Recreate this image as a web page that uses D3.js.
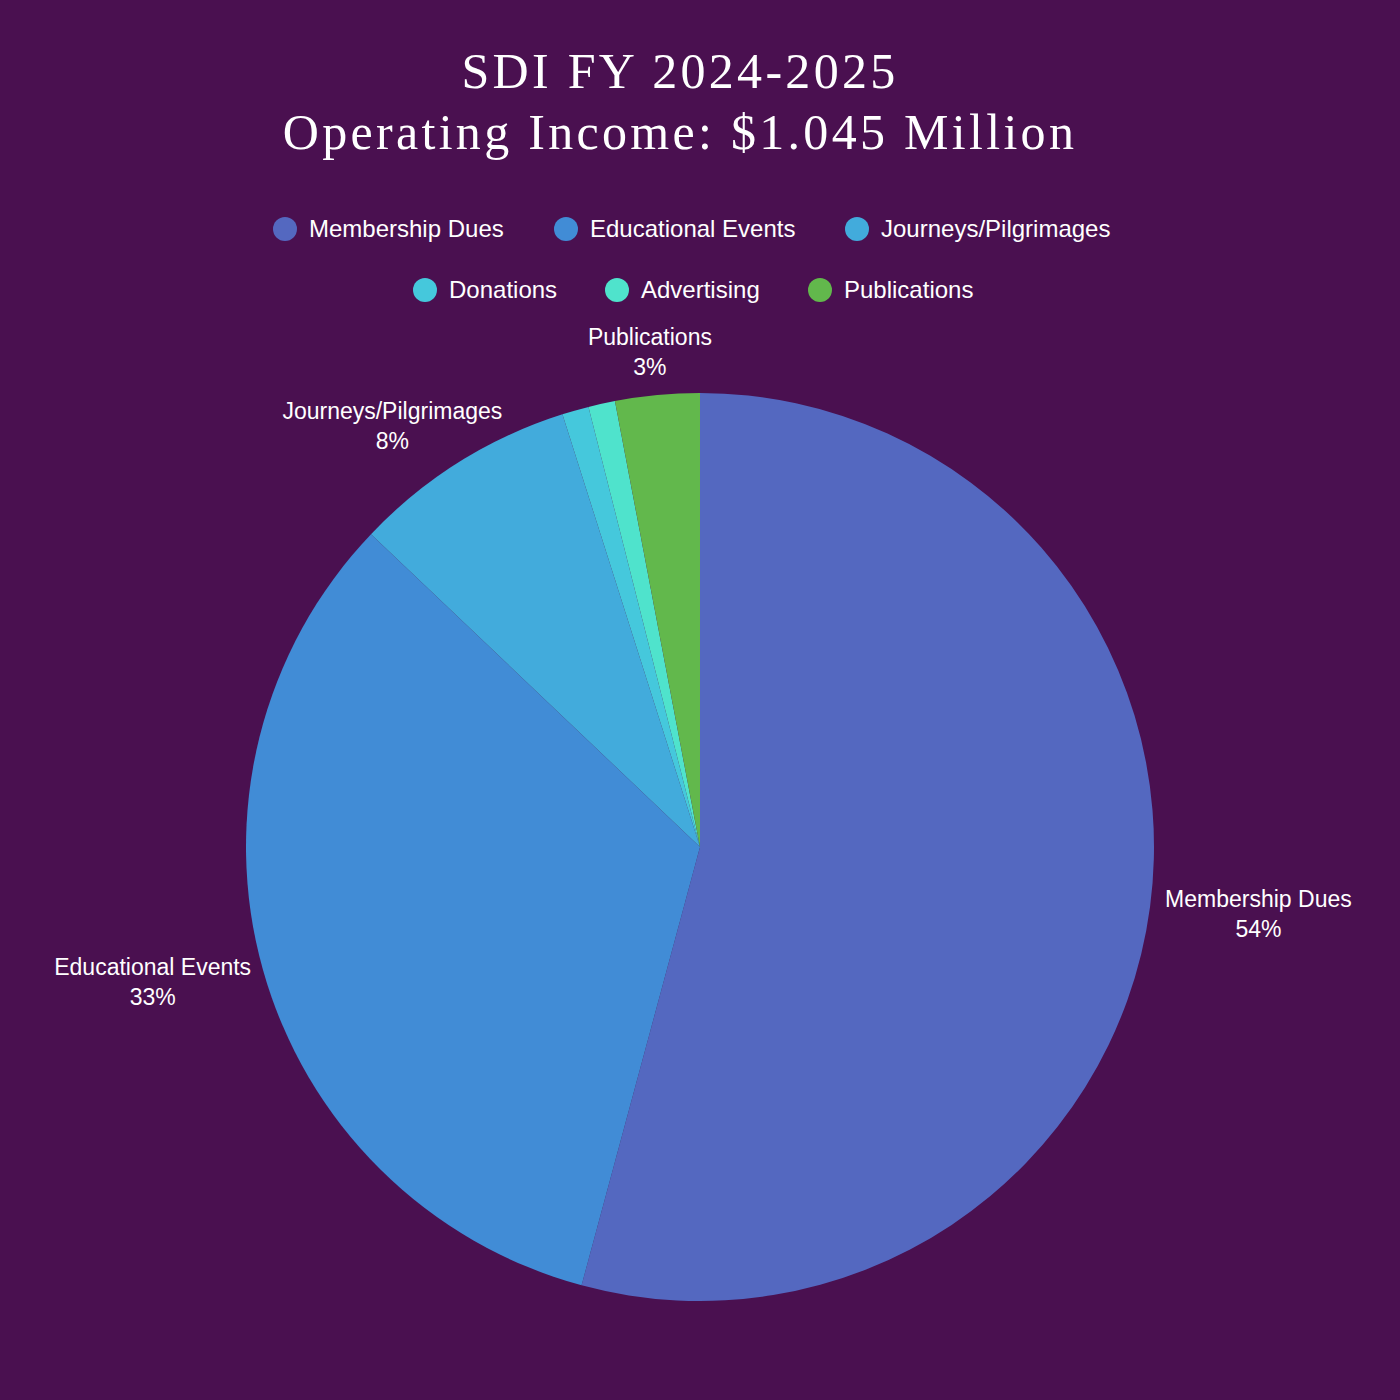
<!DOCTYPE html>
<html><head><meta charset="utf-8">
<script src="https://cdn.jsdelivr.net/npm/d3@7"></script>
<style>body{margin:0;background:#4a1050}</style>
</head><body>
<svg id="chart" width="1400" height="1400"></svg>
<script>
const categories = ["Membership Dues", "Educational Events", "Journeys/Pilgrimages", "Donations", "Advertising", "Publications"];
const values = [54.2, 32.9, 8.0, 0.95, 0.95, 3.0];
const percentLabels = ["54%", "33%", "8%", "1%", "1%", "3%"];
const showLabel = [true, true, true, false, false, true];
const colors = ["#5468c0", "#418cd6", "#42abdc", "#45c8dc", "#4fe3cc", "#62b84c"];

const width = 1400, height = 1400;
const cx = 700, cy = 847, radius = 454;
const svg = d3.select("#chart");
svg.append("rect").attr("width", width).attr("height", height).attr("fill", "#4a1050");

// title
const title = svg.append("text").attr("text-anchor", "middle").attr("fill", "#fff")
  .style("font-family", "'Liberation Serif', 'DejaVu Serif', serif").style("font-size", "50px")
  .style("letter-spacing", "3.3px");
title.append("tspan").attr("x", 680).attr("y", 88).text("SDI FY 2024-2025");
title.append("tspan").attr("x", 680).attr("y", 149).text("Operating Income: $1.045 Million");

// legend
const legendRows = [[0, 1, 2], [3, 4, 5]];
const rowY = [229, 290];
const rowX = [[285, 566, 857], [425, 617, 820]];
legendRows.forEach((row, r) => row.forEach((idx, j) => {
  const g = svg.append("g").attr("transform", `translate(${rowX[r][j]},${rowY[r]})`);
  g.append("circle").attr("r", 12).attr("fill", colors[idx]);
  g.append("text").attr("x", 24).attr("y", 8).attr("fill", "#fff")
    .style("font-family", "'Liberation Sans', Arial, sans-serif").style("font-size", "24px")
    .text(categories[idx]);
}));

// pie
const pie = d3.pie().sort(null).value(d => d)(values);
const arc = d3.arc().innerRadius(0).outerRadius(radius);
const g = svg.append("g").attr("transform", `translate(${cx},${cy})`);
g.selectAll("path").data(pie).join("path")
  .attr("d", arc).attr("fill", (d, i) => colors[i]);

// labels: placed just outside the rim, pushed out by half their size
const lbl = g.selectAll("text.lbl").data(pie.filter((d, i) => showLabel[i])).join("text")
  .attr("class", "lbl").attr("text-anchor", "middle").attr("fill", "#fff")
  .style("font-family", "'Liberation Sans', Arial, sans-serif").style("font-size", "23px");
lbl.each(function(d) {
  const t = d3.select(this);
  t.append("tspan").attr("x", 0).attr("y", 0).text(categories[d.index]);
  t.append("tspan").attr("x", 0).attr("y", 30).text(percentLabels[d.index]);
  const w = this.getBBox().width;
  const a = (d.startAngle + d.endAngle) / 2;
  const s = Math.sin(a), c = Math.cos(a);
  const x = (radius + 12) * s + s * (w / 2 + 4);
  const y = -(radius + 12) * c - c * 32 - 6;
  t.selectAll("tspan").attr("x", x).attr("y", (_, k) => y + k * 30);
});
</script>
</body></html>
